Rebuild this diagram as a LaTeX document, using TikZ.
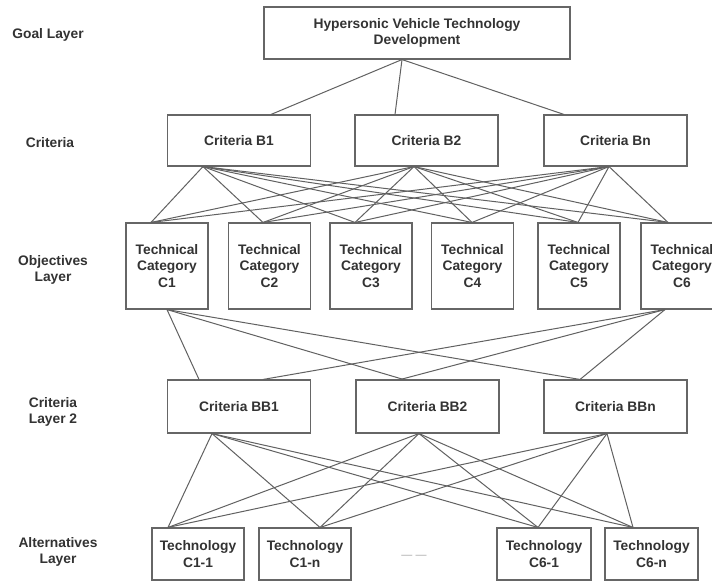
\documentclass[tikz,border=0pt]{standalone}
\usepackage{fontspec}
\setmainfont{Liberation Sans}
\begin{document}
\begin{tikzpicture}[x=1pt,y=-1pt,
  every node/.style={font=\fontsize{13.8}{16.6}\selectfont\bfseries, text=black!80, align=center, inner sep=0pt},
  box/.style={draw=black!60, line width=1.1pt, fill=white},
  lbl/.style={},
  link/.style={draw=black!62, line width=1pt}]
\useasboundingbox (0,0) rectangle (712,582);
\fill[white] (0,0) rectangle (712,582);
% layer labels
\node[lbl] (lgoal) at (48,35) {Goal Layer};
\node[lbl] (lcrit) at (50,143) {Criteria};
\node[lbl] (lobj) at (53,270) {Objectives\\Layer};
\node[lbl] (lcrit2) at (53,412) {Criteria\\Layer 2};
\node[lbl] (lalt) at (58,552) {Alternatives\\Layer};
% goal
\node[box, minimum width=306pt, minimum height=52pt] (goal) at (417,33) {Hypersonic Vehicle Technology\\Development};
% criteria
\node[box, minimum width=143pt, minimum height=51pt] (b1) at (239,140.5) {Criteria B1};
\node[box, minimum width=143pt, minimum height=51pt] (b2) at (426.5,140.5) {Criteria B2};
\node[box, minimum width=143pt, minimum height=51pt] (bn) at (615.5,140.5) {Criteria Bn};
% categories
\foreach \n/\x in {1/167,2/269.5,3/371,4/472.5,5/579,6/682}{
  \node[box, minimum width=82pt, minimum height=86pt] (c\n) at (\x,266) {Technical\\Category\\C\n};
}
% criteria layer 2
\node[box, minimum width=143pt, minimum height=53pt] (bb1) at (239,406.5) {Criteria BB1};
\node[box, minimum width=143pt, minimum height=53pt] (bb2) at (427.5,406.5) {Criteria BB2};
\node[box, minimum width=143pt, minimum height=53pt] (bbn) at (615.5,406.5) {Criteria BBn};
% technologies
\node[box, minimum width=92pt, minimum height=52pt] (t11) at (198,554) {Technology\\C1-1};
\node[box, minimum width=92pt, minimum height=52pt] (t1n) at (305,554) {Technology\\C1-n};
\node[box, minimum width=94pt, minimum height=52pt] (t61) at (544,554) {Technology\\C6-1};
\node[box, minimum width=93pt, minimum height=52pt] (t6n) at (651.5,554) {Technology\\C6-n};
\node[font=\fontsize{11}{13}\selectfont, text=black!35] (dots) at (414,557) {— —};
% goal -> criteria
\draw[link] ([xshift=-15pt]goal.south) -- ([xshift=32pt]b1.north);
\draw[link] ([xshift=-15pt]goal.south) -- ([xshift=-31.5pt]b2.north);
\draw[link] ([xshift=-15pt]goal.south) -- ([xshift=-51.5pt]bn.north);
% criteria -> categories
\foreach \b/\bs in {b1/-36,b2/-12.5,bn/-6.5}{
  \foreach \c/\cs in {c1/-16,c2/-6.5,c3/-16,c4/-0.5,c5/-1,c6/-14}{
    \draw[link] ([xshift=\bs pt]\b.south) -- ([xshift=\cs pt]\c.north);
  }
}
% categories -> criteria layer 2
\draw[link] (c1.south) -- ([xshift=-40pt]bb1.north);
\draw[link] (c1.south) -- ([xshift=-24pt]bb2.north);
\draw[link] (c1.south) -- ([xshift=-35.5pt]bbn.north);
\draw[link] ([xshift=-17pt]c6.south) -- ([xshift=24pt]bb1.north);
\draw[link] ([xshift=-17pt]c6.south) -- ([xshift=-27pt]bb2.north);
\draw[link] ([xshift=-17pt]c6.south) -- ([xshift=-35.5pt]bbn.north);
% criteria layer 2 -> technologies
\foreach \b/\bs in {bb1/-27,bb2/-8.5,bbn/-8.5}{
  \foreach \t/\ts in {t11/-30,t1n/15,t61/-6,t6n/-18.5}{
    \draw[link] ([xshift=\bs pt]\b.south) -- ([xshift=\ts pt]\t.north);
  }
}
\end{tikzpicture}
\end{document}
